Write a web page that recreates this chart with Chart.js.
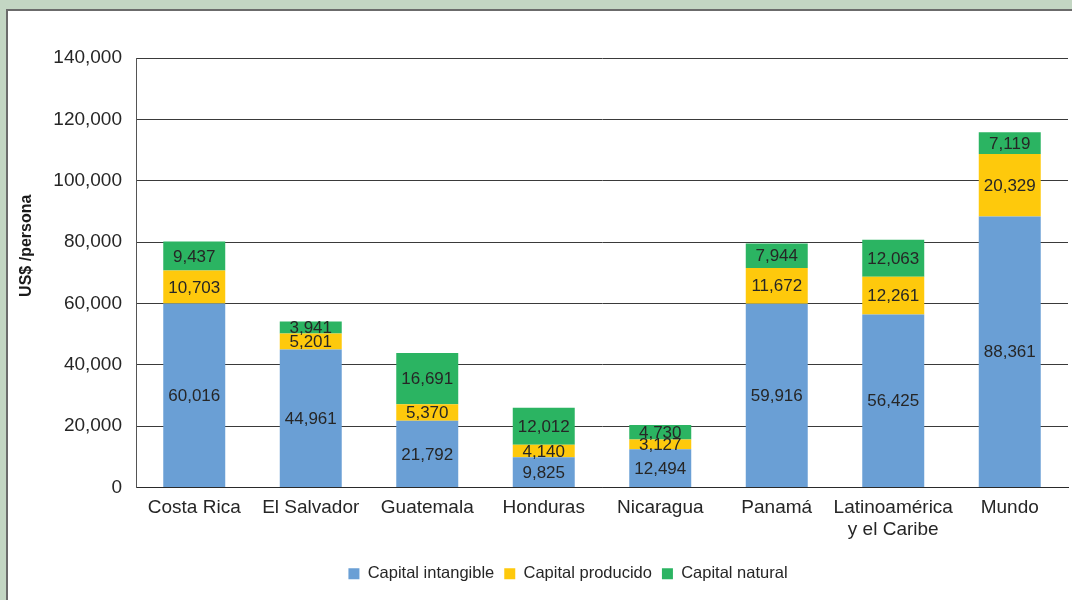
<!DOCTYPE html>
<html>
<head>
<meta charset="utf-8">
<script src="https://cdn.jsdelivr.net/npm/chart.js@4/dist/chart.umd.min.js"></script>
<style>
  html, body { margin: 0; padding: 0; width: 1072px; height: 600px; overflow: hidden; background: #c3d6c3; }
  #panel { position: absolute; left: 6px; top: 9px; width: 1080px; height: 610px; background: #fff;
           border-left: 2px solid #6b6b6b; border-top: 2px solid #6b6b6b; }
  #wrap { position: absolute; left: 0; top: 0; width: 1072px; height: 600px; }
</style>
</head>
<body>
<div id="panel"></div>
<div id="wrap"><canvas id="c" width="1072" height="600"></canvas></div>
<script>
const categories = ['Costa Rica', 'El Salvador', 'Guatemala', 'Honduras', 'Nicaragua', 'Panamá', ['Latinoamérica', 'y el Caribe'], 'Mundo'];
const capitalIntangible = [60016, 44961, 21792, 9825, 12494, 59916, 56425, 88361];
const capitalProducido  = [10703, 5201, 5370, 4140, 3127, 11672, 12261, 20329];
const capitalNatural    = [9437, 3941, 16691, 12012, 4730, 7944, 12063, 7119];
const seriesNames = ['Capital intangible', 'Capital producido', 'Capital natural'];
const yTickValues = [0, 20000, 40000, 60000, 80000, 100000, 120000, 140000];
const yTitle = 'US$ /persona';

const FONT = '"Liberation Sans", Arial, sans-serif';
const fmt = v => v.toLocaleString('en-US');

const dataLabels = {
  id: 'dataLabels',
  afterDatasetsDraw(chart) {
    const ctx = chart.ctx;
    ctx.save();
    ctx.font = '17px ' + FONT;
    ctx.fillStyle = '#262626';
    ctx.textAlign = 'center';
    ctx.textBaseline = 'middle';
    chart.data.datasets.forEach((ds, i) => {
      const meta = chart.getDatasetMeta(i);
      meta.data.forEach((el, j) => {
        ctx.fillText(fmt(ds.data[j]), el.x, (el.y + el.base) / 2 + 1);
      });
    });
    ctx.restore();
  }
};

const yTitlePlugin = {
  id: 'yTitlePlugin',
  afterDraw(chart) {
    const ctx = chart.ctx;
    const a = chart.chartArea;
    ctx.save();
    ctx.translate(27, (a.top + a.bottom) / 2 - 27);
    ctx.rotate(-Math.PI / 2);
    ctx.font = 'bold 16px ' + FONT;
    ctx.fillStyle = '#1a1a1a';
    ctx.textAlign = 'center';
    ctx.textBaseline = 'middle';
    ctx.fillText(yTitle, 0, 0);
    ctx.restore();
  }
};

const legendShift = {
  id: 'legendShift',
  afterLayout(chart) {
    if (chart.legend) {
      chart.legend.left += 34;
      chart.legend.right += 34;
    }
  }
};

new Chart(document.getElementById('c'), {
  type: 'bar',
  data: {
    labels: categories,
    datasets: [
      { label: seriesNames[0], data: capitalIntangible, backgroundColor: '#6a9fd5' },
      { label: seriesNames[1], data: capitalProducido, backgroundColor: '#fec90c' },
      { label: seriesNames[2], data: capitalNatural, backgroundColor: '#2bb462' }
    ]
  },
  options: {
    responsive: false,
    animation: false,
    devicePixelRatio: 1,
    layout: { padding: { top: 58, right: 4, bottom: 8, left: 0 } },
    datasets: { bar: { barPercentage: 0.532, categoryPercentage: 1.0 } },
    plugins: {
      tooltip: { enabled: false },
      legend: {
        position: 'bottom',
        labels: {
          font: { family: FONT, size: 16.5 },
          color: '#262626',
          boxWidth: 11,
          boxHeight: 11,
          padding: 10
        }
      }
    },
    scales: {
      x: {
        stacked: true,
        grid: { display: false, drawTicks: false },
        border: { display: true, color: '#2a2a2a', width: 1 },
        ticks: { font: { family: FONT, size: 19, lineHeight: 1.16 }, color: '#262626', padding: 9, maxRotation: 0, autoSkip: false },
        afterFit(scale) { scale.height = 68; }
      },
      y: {
        stacked: true,
        min: 0,
        max: 140000,
        afterBuildTicks(scale) { scale.ticks = yTickValues.map(v => ({ value: v })); },
        grid: { color: '#3a3a3a', lineWidth: 1, drawTicks: false },
        border: { display: true, color: '#555', width: 1 },
        ticks: { font: { family: FONT, size: 19 }, color: '#262626', padding: 14, callback: v => fmt(v) },
        afterFit(scale) { scale.width = 136; }
      }
    }
  },
  plugins: [dataLabels, yTitlePlugin, legendShift]
});
</script>
</body>
</html>
